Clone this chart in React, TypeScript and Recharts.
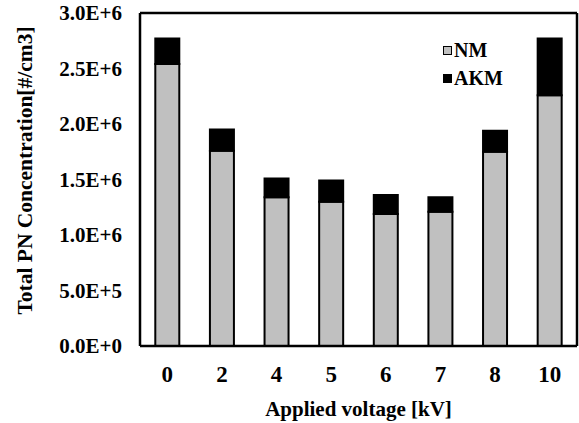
import React from "react"
import { BarChart, Bar, XAxis, YAxis } from "recharts"

const voltages = ["0", "2", "4", "5", "6", "7", "8", "10"]
const nmValues = [2.54e6, 1.76e6, 1.34e6, 1.3e6, 1.19e6, 1.21e6, 1.75e6, 2.26e6]
const akmValues = [0.23e6, 0.19e6, 0.17e6, 0.19e6, 0.17e6, 0.13e6, 0.19e6, 0.51e6]
const yTicks = [0, 5e5, 1e6, 1.5e6, 2e6, 2.5e6, 3e6]

const seriesNames = ["NM", "AKM"]
const seriesColors = ["#c0c0c0", "#000"]

const data = voltages.map((v, i) => ({ voltage: v, NM: nmValues[i], AKM: akmValues[i] }))

const FONT = '"Liberation Serif", "Times New Roman", serif'

const fmtExp = (v: number) => v.toExponential(1).toUpperCase()

// simple legend in the top-right corner, like the excel original
function LegendBox() {
  return (
    <div
      style={{
        position: "absolute",
        left: 443,
        top: 36,
        fontFamily: FONT,
        fontWeight: "bold",
        fontSize: 20,
        lineHeight: "28px",
      }}
    >
      {seriesNames.map((name, i) => (
        <div key={name} style={{ display: "flex", alignItems: "center", height: 28 }}>
          <span
            style={{
              display: "inline-block",
              width: 7,
              height: 7,
              background: seriesColors[i],
              border: "1.5px solid #000",
              marginRight: 2,
            }}
          />
          {name}
        </div>
      ))}
    </div>
  )
}

export default function App() {
  return (
    <div style={{ position: "absolute", left: 0, top: 0, width: 579, height: 423, background: "#fff" }}>
      <BarChart
        width={579}
        height={423}
        data={data}
        margin={{ top: 12, right: 1, bottom: 0, left: 0 }}
        barCategoryGap="28%"
      >
        <XAxis
          dataKey="voltage"
          height={77}
          tickLine={false}
          tickSize={0}
          tickMargin={20}
          axisLine={{ stroke: "#000", strokeWidth: 2.5 }}
          tick={{ fontFamily: FONT, fontWeight: "bold", fontSize: 23, fill: "#000" }}
          label={{
            value: "Applied voltage [kV]",
            position: "insideBottom",
            offset: 7,
            style: { fontFamily: FONT, fontWeight: "bold", fontSize: 21, fill: "#000" },
          }}
        />
        <XAxis
          xAxisId="top"
          orientation="top"
          height={1}
          tick={false}
          tickLine={false}
          axisLine={{ stroke: "#000", strokeWidth: 2.5 }}
        />
        <YAxis
          width={140}
          domain={[0, 3e6]}
          ticks={yTicks}
          tickFormatter={fmtExp}
          tickLine={false}
          tickSize={0}
          tickMargin={18}
          axisLine={{ stroke: "#000", strokeWidth: 2.5 }}
          tick={{ fontFamily: FONT, fontWeight: "bold", fontSize: 21, fill: "#000" }}
          label={{
            value: "Total PN Concentration[#/cm3]",
            angle: -90,
            position: "insideLeft",
            offset: 24,
            dy: -9,
            style: { textAnchor: "middle", fontFamily: FONT, fontWeight: "bold", fontSize: 21.5, fill: "#000" },
          }}
        />
        <YAxis
          yAxisId="right"
          orientation="right"
          width={1}
          domain={[0, 3e6]}
          tick={false}
          tickLine={false}
          axisLine={{ stroke: "#000", strokeWidth: 2.5 }}
        />
        <Bar dataKey="NM" stackId="a" fill={seriesColors[0]} stroke="#000" strokeWidth={2} isAnimationActive={false} />
        <Bar dataKey="AKM" stackId="a" fill={seriesColors[1]} stroke="#000" strokeWidth={2} isAnimationActive={false} />
      </BarChart>
      <LegendBox />
    </div>
  )
}
